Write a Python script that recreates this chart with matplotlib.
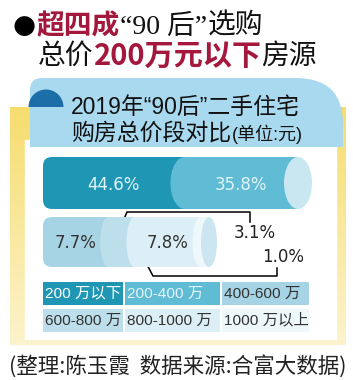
"""
2019 "90后" second-hand home purchases by total price band (infographic).
"""

import matplotlib
matplotlib.use("Agg")
import matplotlib.pyplot as plt
import matplotlib.patches as mpatches
from matplotlib.path import Path
import numpy as np

# ------------------------------------------------- Data -------------------------------------------------

BANDS = ["200 万以下", "200-400 万", "400-600 万", "600-800 万", "800-1000 万", "1000 万以上"]
SHARES = [44.6, 35.8, 7.7, 3.1, 7.8, 1.0]
ROW_SPLIT = [2, 4]          # first two bands in the upper cylinder, the rest below

TITLE_1 = ["●", "超四成", "“90 后”", "选购"]
TITLE_2 = ["总价", "200万元以下", "房源"]
HEADER_1 = "2019年“90后”二手住宅"
HEADER_2 = "购房总价段对比"
HEADER_UNIT = "(单位:元)"
FOOTER = "(整理:陈玉霞  数据来源:合富大数据)"

# ------------------------------------------------- Styling -------------------------------------------------

W, H = 353, 380
CJK = "Noto Sans CJK SC"
SANS = ["Liberation Sans", CJK]
RED = "#a4183d"

BAND_COLORS = ["#1e96b4", "#60bbd4", "#a6d4e4", "#bddfeb", "#dceff6", "#eef8fb"]
BAND_TEXT = ["#ffffff", "#e2f4fa", "#333333", "#333333", "#333333", "#333333"]
CAP_COLORS = ["#c9e7f1", "#cbe6f0"]
LABEL_COLORS = ["#dff3f9", "#333333"]

# cylinder rows: left x, length to cap centre, top y, bottom y, cap half width
ROWS = [
    dict(x0=43, length=255, top=157, bottom=209, cap=14),
    dict(x0=43, length=166, top=217, bottom=267, cap=8),
]

plt.rcParams["font.family"] = [CJK, "DejaVu Sans"]

fig = plt.figure(figsize=(W / 100, H / 100), dpi=100)
fig.patch.set_facecolor("white")
ax = fig.add_axes([0, 0, 1, 1])
ax.set_xlim(0, W)
ax.set_ylim(H, 0)
ax.set_axis_off()

renderer = fig.canvas.get_renderer()


def put(x, y, s, **kw):
    """Draw text left-aligned at x and return its right edge in data units."""
    t = ax.text(x, y, s, ha="left", va="center", **kw)
    bb = t.get_window_extent(renderer=renderer)
    return ax.transData.inverted().transform((bb.x1, bb.y0))[0]


# ------------------------------------------------- Title -------------------------------------------------

x = put(12, 26, TITLE_1[0], fontsize=19, color="black", family=["DejaVu Sans"])
x = put(x + 2, 26, TITLE_1[1], fontsize=20, color=RED, fontweight="bold")
x = put(x, 27, TITLE_1[2], fontsize=20, color="#111111",
        family=["Liberation Serif", CJK])
put(x, 26, TITLE_1[3], fontsize=20, color="#111111")

x = put(38, 56, TITLE_2[0], fontsize=20, color="#111111")
x = put(x, 56, TITLE_2[1], fontsize=21, color=RED, fontweight="bold")
put(x, 56, TITLE_2[2], fontsize=20, color="#111111")

# ------------------------------------------------- Panel -------------------------------------------------

# yellow frame with a soft vertical fade
grad = np.linspace(0, 1, 256)[:, None]
top_c = np.array(matplotlib.colors.to_rgb("#f6dd6e"))
bot_c = np.array(matplotlib.colors.to_rgb("#fdf3cc"))
img = top_c[None, None, :] * (1 - grad[..., None]) + bot_c[None, None, :] * grad[..., None]
ax.imshow(img, extent=(10, 346, 345, 107), aspect="auto", zorder=1)
ax.add_patch(mpatches.Rectangle((25, 140), 311, 199, color="white", zorder=2))

# header bubble
verts = [
    (30, 147), (30, 90), (30, 78), (42, 78), (296, 78),
    (343, 78), (343, 124), (343, 147), (30, 147),
]
codes = [
    Path.MOVETO, Path.LINETO, Path.CURVE3, Path.CURVE3, Path.LINETO,
    Path.CURVE3, Path.CURVE3, Path.LINETO, Path.CLOSEPOLY,
]
ax.add_patch(mpatches.PathPatch(Path(verts, codes), facecolor="#a9d9ef",
                                edgecolor="none", zorder=3))
ax.add_patch(mpatches.Wedge((46, 107), 17.5, 180, 360, facecolor="#1c6ea8",
                            edgecolor="none", zorder=4))

put(71, 107, HEADER_1, fontsize=16.5, color="#111111", zorder=5, family=SANS)
x = put(71, 133, HEADER_2, fontsize=16.5, color="#111111", zorder=5, family=SANS)
put(x + 1, 134, HEADER_UNIT, fontsize=13, color="#111111", zorder=5, family=SANS)

# ------------------------------------------------- Cylinders -------------------------------------------------

start = 0
for r, n in enumerate(ROW_SPLIT):
    cfg = ROWS[r]
    vals = SHARES[start:start + n]
    cols = BAND_COLORS[start:start + n]
    total = sum(vals)
    h = cfg["bottom"] - cfg["top"]

    rax = fig.add_axes([cfg["x0"] / W, 1 - cfg["bottom"] / H,
                        cfg["length"] / W, h / H])
    rax.set_xlim(0, total)
    rax.set_ylim(0, 1)
    rax.set_axis_off()
    rax.patch.set_alpha(0)

    px = total / cfg["length"]          # data units per pixel along x
    ew = 2 * cfg["cap"] * px
    edges = np.concatenate([[0], np.cumsum(vals)])

    for i, v in enumerate(vals):
        left, right = edges[i], edges[i + 1]
        if i == 0:
            rs = 9 * px
            body = mpatches.FancyBboxPatch(
                (left, 0), right - left + 12 * px, 1,
                boxstyle=f"round,pad=0,rounding_size={rs}",
                mutation_aspect=(1 / h) / px,
                facecolor=cols[i], edgecolor="none", clip_on=False)
            rax.add_patch(body)
        else:
            rax.add_patch(mpatches.Ellipse((left, 0.5), ew, 1, facecolor=cols[i],
                                           edgecolor="none", clip_on=False))
            rax.add_patch(mpatches.Rectangle((left, 0), right - left, 1,
                                             facecolor=cols[i], edgecolor="none",
                                             clip_on=False))
    rax.add_patch(mpatches.Ellipse((total, 0.5), ew, 1, facecolor=CAP_COLORS[r],
                                   edgecolor="none", clip_on=False))

    # labels inside the segments of the larger pieces
    for i, v in enumerate(vals):
        if r == 0 or i in (0, 2):
            rax.text((edges[i] + edges[i + 1]) / 2, 0.47, f"{v:.1f}%",
                     ha="center", va="center", fontsize=12,
                     family=["DejaVu Sans"], color=LABEL_COLORS[r])
    start += n

# callouts for the two thin pieces in the lower row
small = SHARES[ROW_SPLIT[0]:]
ax.plot([115, 127, 250, 250], [240, 212, 212, 222], color="black", lw=1.1, zorder=6)
ax.text(255, 233, f"{small[1]:.1f}%", ha="center", va="center", fontsize=12,
        family=["DejaVu Sans"], color="#222222", zorder=6)
ax.plot([143, 153, 277, 277], [257, 276, 276, 268], color="black", lw=1.1, zorder=6)
ax.text(283, 257, f"{small[3]:.1f}%", ha="center", va="center", fontsize=12,
        family=["DejaVu Sans"], color="#222222", zorder=6)

# ------------------------------------------------- Legend -------------------------------------------------

col_x = [(43, 123), (125, 220), (222, 309)]
row_y = [(282, 305), (309, 332)]
for k, band in enumerate(BANDS):
    (x0, x1), (y0, y1) = col_x[k % 3], row_y[k // 3]
    ax.add_patch(mpatches.Rectangle((x0, y0), x1 - x0, y1 - y0,
                                    facecolor=BAND_COLORS[k], edgecolor="none", zorder=5))
    ax.text(x0 + 2, (y0 + y1) / 2, band, ha="left", va="center", fontsize=11.1,
            color=BAND_TEXT[k], zorder=6, family=SANS)

# ------------------------------------------------- Footer -------------------------------------------------

ax.text(9, 366, FOOTER, ha="left", va="center", fontsize=15.5, color="#222222")

fig.savefig("out.png", dpi=100, facecolor="white")
